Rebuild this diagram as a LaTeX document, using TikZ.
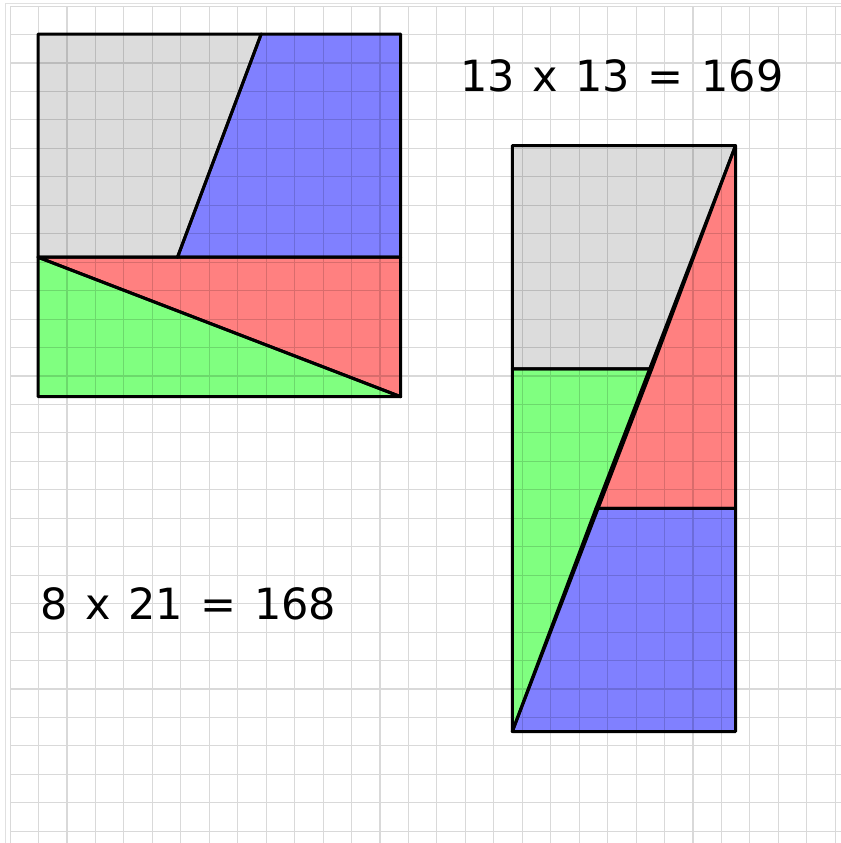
\documentclass[tikz,border=0pt]{standalone}
\usepackage{fontspec}
\setmainfont{DejaVu Sans}
\definecolor{pgrey}{HTML}{DCDCDC}
\definecolor{pblue}{HTML}{8080FF}
\definecolor{pred}{HTML}{FF8080}
\definecolor{pgreen}{HTML}{80FF80}
\newcommand\eqwsp{\spaceskip=0.41em\relax}
\tikzset{
  piece/.style={draw=black, line width=3pt, line join=round},
  gridline/.style={draw=black, draw opacity=0.15, line width=1.1pt},
  framel/.style={draw=black!12, line width=1pt},
  eqlabel/.style={anchor=base west, inner sep=0pt, font=\fontsize{43}{50}\selectfont}
}
\begin{document}
\begin{tikzpicture}[x=27.9pt, y=-27.9pt]
\useasboundingbox (-0.362,-0.219) rectangle (29.78,29.996);
\fill[white] (-0.362,-0.219) rectangle (29.78,29.996);
% left square pieces
\fill[pgrey] (1,1) -- (9,1) -- (6,9) -- (1,9) -- cycle;
\fill[pblue] (9,1) -- (14,1) -- (14,9) -- (6,9) -- cycle;
\fill[pred] (1,9) -- (14,9) -- (14,14) -- cycle;
\fill[pgreen] (1,9) -- (14,14) -- (1,14) -- cycle;
% right rectangle pieces
\fill[pgrey] (18,5) -- (26,5) -- (23,13) -- (18,13) -- cycle;
\fill[pred] (26,5) -- (26,18) -- (21,18) -- cycle;
\fill[pgreen] (18,13) -- (23,13) -- (18,26) -- cycle;
\fill[pblue] (21,18) -- (26,18) -- (26,26) -- (18,26) -- cycle;
% grid
\begin{scope}
\clip (-0.362,-0.219) rectangle (29.78,29.996);
\draw[gridline] (0,0) grid (30,30);
\draw[framel] (30,-0.09) -- (-0.18,-0.09) -- (-0.18,30.5);
\end{scope}
% outlines
\draw[piece] (1,1) -- (9,1) -- (6,9) -- (1,9) -- cycle;
\draw[piece] (9,1) -- (14,1) -- (14,9) -- (6,9) -- cycle;
\draw[piece] (1,9) -- (14,9) -- (14,14) -- cycle;
\draw[piece] (1,9) -- (14,14) -- (1,14) -- cycle;
\draw[piece] (18,5) -- (26,5) -- (23,13) -- (18,13) -- cycle;
\draw[piece] (26,5) -- (26,18) -- (21,18) -- cycle;
\draw[piece] (18,13) -- (23,13) -- (18,26) -- cycle;
\draw[piece] (21,18) -- (26,18) -- (26,26) -- (18,26) -- cycle;
% labels
\node[eqlabel] (eqa) at (16.125,3.043) {\eqwsp 13 x 13 = 169};
\node[eqlabel] (eqb) at (1.072,22.0) {\eqwsp 8 x 21 = 168};
\end{tikzpicture}
\end{document}
